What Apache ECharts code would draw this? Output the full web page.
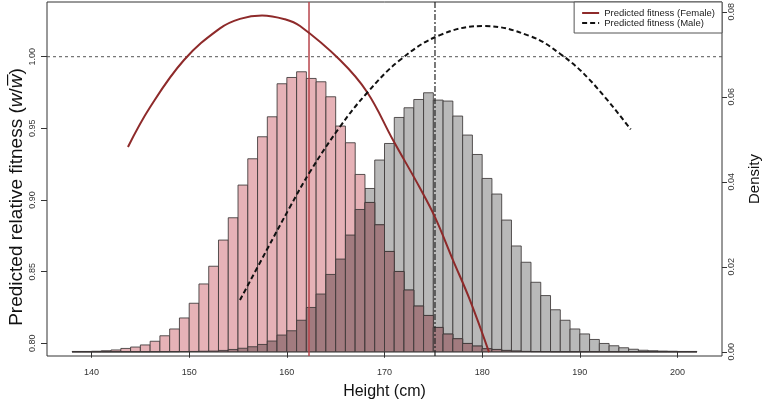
<!DOCTYPE html>
<html><head><meta charset="utf-8">
<script src="https://cdn.jsdelivr.net/npm/echarts@6/dist/echarts.min.js"></script>
<style>html,body{margin:0;padding:0;background:#fff}#c{width:762px;height:407px}</style>
</head><body><div id="c"></div>
<script>
// ---- data ----
const binStarts = [138,139,140,141,142,143,144,145,146,147,148,149,150,151,152,153,154,155,156,157,158,159,160,161,162,163,164,165,166,167,168,169,170,171,172,173,174,175,176,177,178,179,180,181,182,183,184,185,186,187,188,189,190,191,192,193,194,195,196,197,198,199,200,201];
const binWidth = 1;
const femaleDensity = [0.00007,0.00007,0.00012,0.00024,0.00042,0.00078,0.00111,0.0016,0.00247,0.00376,0.00536,0.00795,0.01141,0.01595,0.02012,0.02628,0.03153,0.03922,0.04541,0.05059,0.05529,0.06306,0.06454,0.06588,0.06431,0.06353,0.06,0.05311,0.04918,0.04172,0.03513,0.02988,0.0236,0.01889,0.01452,0.01075,0.00854,0.00572,0.00416,0.00306,0.00195,0.00134,0.00071,0.00054,0.00031,0.00016,0.00007,0.00004,0.00002,0,0,0,0,0,0,0,0,0,0,0,0,0,0,0];
const maleDensity = [0,0,0,0,0,0,0,0,0.00001,0.00002,0.00003,0.00005,0.00007,0.00012,0.00016,0.00031,0.00054,0.00082,0.00118,0.00172,0.00252,0.00393,0.00494,0.00741,0.01042,0.01358,0.01819,0.02181,0.02746,0.03348,0.03842,0.04511,0.04901,0.05513,0.05741,0.05936,0.06094,0.05922,0.05899,0.05546,0.05099,0.04642,0.04078,0.03711,0.03099,0.02489,0.02106,0.01635,0.01322,0.00988,0.00741,0.00536,0.00419,0.00289,0.00195,0.00141,0.00094,0.00059,0.00035,0.00024,0.00016,0.00012,0.00007,0.00007];
const femaleFitHeight = [143.73,145.99,149.47,153.15,155.20,157.46,159.81,161.35,165.44,168.21,170.87,173.63,175.17,177.01,178.75,180.70];
const femaleFitness   = [0.9370,0.9647,0.9977,1.0198,1.0264,1.0288,1.0261,1.0214,0.9977,0.9754,0.9419,0.9084,0.8881,0.8581,0.8302,0.7939];
const maleFitHeight = [155.20,157.94,160.32,162.37,165.44,168.18,171.59,175.68,180.19,184.90,187.97,191.04,195.21];
const maleFitness   = [0.8302,0.8651,0.8951,0.9197,0.9511,0.9745,0.9977,1.0151,1.0214,1.0144,1.0021,0.9837,0.9493];
const femaleMeanHeight = 162.27;
const maleMeanHeight = 175.17;
const referenceFitness = 1.00;
const xTicks = [140,150,160,170,180,190,200];
const fitnessTicks = [0.80,0.85,0.90,0.95,1.00];
const densityTicks = [0.00,0.02,0.04,0.06,0.08];
const xRange = [135.44, 204.56];
const fitnessRange = [0.79117, 1.03817];
const densityRange = [-0.001, 0.0823];
const seriesNames = ['Predicted fitness (Female)', 'Predicted fitness (Male)'];

// ---- chart ----
const FONT = '"Liberation Sans", Arial, Helvetica, sans-serif';
const chart = echarts.init(document.getElementById('c'), null, {renderer:'canvas', width:762, height:407});

const EDGE = 'rgba(60,55,55,0.85)';
function maleItem(params, api) {
  const p0 = api.coord([api.value(0), 0]);
  const p1 = api.coord([api.value(1), api.value(2)]);
  return {type: 'rect', shape: {x: p0[0], y: p1[1], width: p1[0] - p0[0], height: p0[1] - p1[1]},
          style: {fill: '#b9b9b9', stroke: EDGE, lineWidth: 1}};
}
function femaleItem(params, api) {
  const x0 = api.value(0), x1 = api.value(1), f = api.value(2), m = api.value(3);
  const p0 = api.coord([x0, 0]);
  const pf = api.coord([x1, f]);
  const po = api.coord([x1, Math.min(f, m)]);
  return {type: 'group', children: [
    {type: 'rect', shape: {x: p0[0], y: pf[1], width: pf[0] - p0[0], height: p0[1] - pf[1]},
     style: {fill: '#e6b2b7', stroke: EDGE, lineWidth: 1}},
    {type: 'rect', shape: {x: p0[0], y: po[1], width: po[0] - p0[0], height: p0[1] - po[1]},
     style: {fill: '#a27b7f', stroke: EDGE, lineWidth: 1}}
  ]};
}
const maleBins = binStarts.map((b, i) => [b, b + binWidth, maleDensity[i]]);
const femaleBins = binStarts.map((b, i) => [b, b + binWidth, femaleDensity[i], maleDensity[i]]);

const option = {
  animation: false,
  backgroundColor: '#fff',
  textStyle: {fontFamily: FONT},
  grid: {left: 47, right: 40, top: 2, bottom: 51, show: true, borderColor: '#333', borderWidth: 1, containLabel: false, outerBoundsMode: 'none'},
  legend: {
    data: seriesNames, orient: 'vertical', right: 40, top: 2,
    itemWidth: 17, itemHeight: 10, itemGap: 0, padding: [6, 7, 5, 7],
    borderColor: '#555', borderWidth: 1, borderRadius: 0, backgroundColor: '#fff',
    itemStyle: {opacity: 0},
    textStyle: {fontSize: 9.5, color: '#222', fontFamily: FONT}
  },
  xAxis: {
    type: 'value', min: xRange[0], max: xRange[1],
    axisLine: {show: false}, splitLine: {show: false},
    axisTick: {show: true, customValues: xTicks, length: 6, lineStyle: {color: '#333'}},
    axisLabel: {customValues: xTicks, margin: 12, fontSize: 9, color: '#333', fontFamily: FONT},
    name: 'Height (cm)', nameLocation: 'middle', nameGap: 28,
    nameTextStyle: {fontSize: 16, color: '#111', fontFamily: FONT}
  },
  yAxis: [
    {
      type: 'value', min: fitnessRange[0], max: fitnessRange[1], position: 'left',
      axisLine: {show: false}, splitLine: {show: false},
      axisTick: {show: true, customValues: fitnessTicks, length: 6, lineStyle: {color: '#333'}},
      axisLabel: {customValues: fitnessTicks, rotate: 90, margin: 10, fontSize: 9, color: '#333', fontFamily: FONT,
        formatter: v => v.toFixed(2)}
    },
    {
      type: 'value', min: densityRange[0], max: densityRange[1], position: 'right',
      axisLine: {show: false}, splitLine: {show: false},
      axisTick: {show: true, customValues: densityTicks, length: 5, lineStyle: {color: '#333'}},
      axisLabel: {customValues: densityTicks, rotate: 90, margin: 5, fontSize: 9, color: '#333', fontFamily: FONT,
        formatter: v => v.toFixed(2)},
      name: 'Density', nameLocation: 'middle', nameRotate: 90, nameGap: 25,
      nameTextStyle: {fontSize: 15, color: '#111', fontFamily: FONT}
    }
  ],
  graphic: [{
    type: 'text', x: 17, y: 197, rotation: Math.PI / 2,
    style: {
      text: 'Predicted relative fitness ({i|w}/{i|w\u0305})',
      fontSize: 19, fontFamily: FONT, fill: '#111', align: 'center', verticalAlign: 'middle',
      rich: {i: {fontStyle: 'italic', fontSize: 19, fontFamily: FONT, fill: '#111'}}
    }
  }],
  series: [
    {
      name: 'maleHist', type: 'custom', xAxisIndex: 0, yAxisIndex: 1,
      renderItem: maleItem, encode: {x: [0, 1], y: 2}, data: maleBins, silent: true, z: 1
    },
    {
      name: 'femaleHist', type: 'custom', xAxisIndex: 0, yAxisIndex: 1,
      renderItem: femaleItem, encode: {x: [0, 1], y: 2}, data: femaleBins, silent: true, z: 1
    },
    {
      name: 'refLine', type: 'line', xAxisIndex: 0, yAxisIndex: 0, symbol: 'none', silent: true, z: 3,
      data: [[xRange[0], referenceFitness], [xRange[1], referenceFitness]],
      lineStyle: {color: '#555', width: 1, type: [3, 3]}
    },
    {
      name: 'femaleMean', type: 'line', xAxisIndex: 0, yAxisIndex: 0, symbol: 'none', silent: true, z: 4,
      data: [[femaleMeanHeight, fitnessRange[0]], [femaleMeanHeight, fitnessRange[1]]],
      lineStyle: {color: '#b8454b', width: 1.5}
    },
    {
      name: 'maleMean', type: 'line', xAxisIndex: 0, yAxisIndex: 0, symbol: 'none', silent: true, z: 4,
      data: [[maleMeanHeight, fitnessRange[0]], [maleMeanHeight, fitnessRange[1]]],
      lineStyle: {color: '#222', width: 1.2, type: [6, 2, 2, 2]}
    },
    {
      name: seriesNames[0], type: 'line', xAxisIndex: 0, yAxisIndex: 0, symbol: 'none', z: 5,
      smooth: 0.4,
      data: femaleFitHeight.map((h, i) => [h, femaleFitness[i]]),
      lineStyle: {color: '#8e2a2a', width: 2}, itemStyle: {color: '#8e2a2a'}
    },
    {
      name: seriesNames[1], type: 'line', xAxisIndex: 0, yAxisIndex: 0, symbol: 'none', z: 5,
      smooth: 0.4,
      data: maleFitHeight.map((h, i) => [h, maleFitness[i]]),
      lineStyle: {color: '#111', width: 2, type: [5, 3]}, itemStyle: {color: '#111'}
    }
  ]
};
chart.setOption(option);
</script>
</body></html>
